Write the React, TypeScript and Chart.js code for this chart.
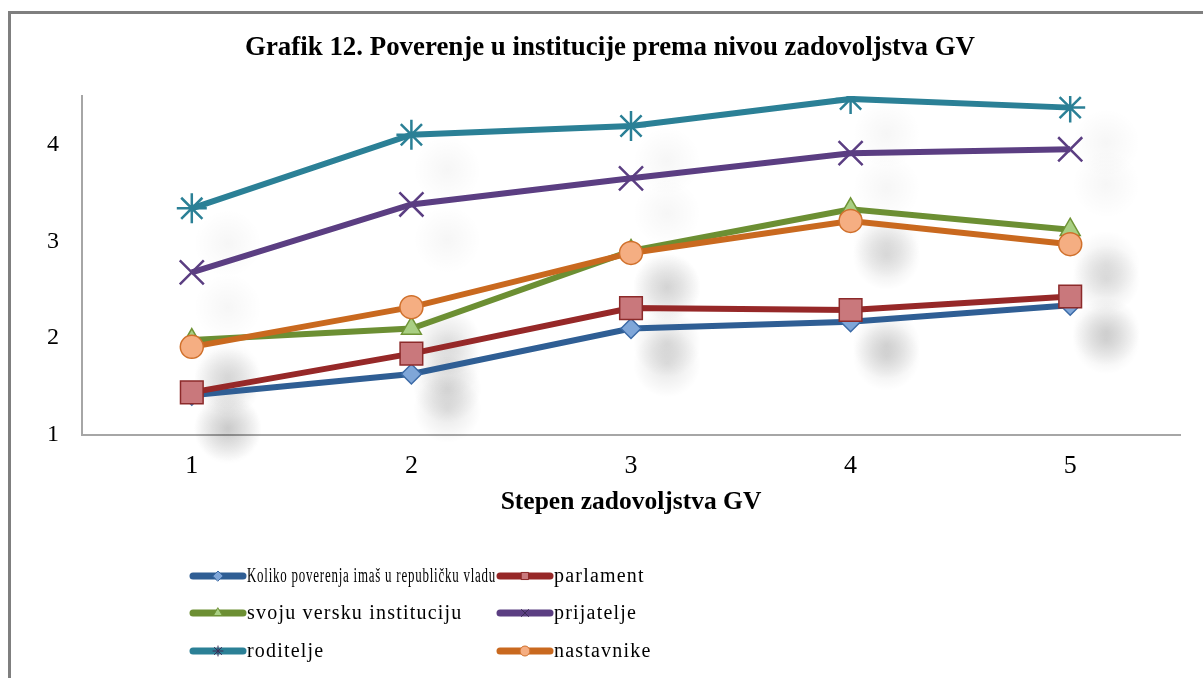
import React, { useEffect, useRef } from "react";
import { Chart, registerables } from "chart.js";
import { drawPoint } from "chart.js/helpers";

Chart.register(...registerables);

const categories = ["1", "2", "3", "4", "5"];
const vladu = [1.41, 1.63, 2.1, 2.17, 2.34];
const parlament = [1.44, 1.84, 2.31, 2.29, 2.43];
const verska = [1.98, 2.1, 2.9, 3.33, 3.12];
const prijatelje = [2.68, 3.38, 3.65, 3.91, 3.95];
const roditelje = [3.34, 4.1, 4.19, 4.47, 4.38];
const nastavnike = [1.91, 2.32, 2.88, 3.21, 2.97];
const seriesLabels = [
  "Koliko poverenja imaš u republičku vladu",
  "parlament",
  "svoju versku instituciju",
  "prijatelje",
  "roditelje",
  "nastavnike",
];
const yTicks = [1, 2, 3, 4];
const titleText = "Grafik 12. Poverenje u institucije prema nivou zadovoljstva GV";
const xTitleText = "Stepen zadovoljstva GV";

const SERIF = '"Liberation Serif", "Times New Roman", serif';

const styles = [
  { line: "#2f5e94", fill: "#7fa6d8", border: "#3b6aa6", point: "rectRot", r: 10, bw: 1.5, shadow: 0.1 },
  { line: "#962828", fill: "#c9787c", border: "#8c2a2a", point: "rect", r: 16, bw: 1.5, shadow: 0.12 },
  { line: "#6c8f33", fill: "#a9cf83", border: "#6f9436", point: "triangle", r: 11.5, bw: 1.5, shadow: 0.07 },
  { line: "#5b3e82", fill: "#5b3e82", border: "#5b3e82", point: "crossRot", r: 17, bw: 2.5, shadow: 0.035 },
  { line: "#2b8096", fill: "#2b8096", border: "#2b8096", point: "star", r: 15, bw: 2.5, shadow: 0.035 },
  { line: "#c9691f", fill: "#f5ae82", border: "#d0702b", point: "circle", r: 11.5, bw: 1.5, shadow: 0.11 },
];

const seriesData = [vladu, parlament, verska, prijatelje, roditelje, nastavnike];

const legendColX = [190, 497];
const legendRowY = [576, 613, 651];
const legendTextMax = [249, 300];

const framePlugin = {
  id: "frame",
  beforeDraw(chart: any) {
    const ctx = chart.ctx;
    ctx.save();
    ctx.fillStyle = "#ffffff";
    ctx.fillRect(0, 0, chart.width, chart.height);
    ctx.strokeStyle = "#7f7f7f";
    ctx.lineWidth = 3;
    ctx.strokeRect(9.5, 12.5, chart.width + 40, chart.height + 40);
    // chart title
    ctx.fillStyle = "#000000";
    ctx.font = `bold 28px ${SERIF}`;
    ctx.textAlign = "center";
    ctx.textBaseline = "middle";
    ctx.translate(610, 48);
    ctx.scale(0.96, 1);
    ctx.fillText(titleText, 0, 0);
    ctx.restore();
  },
};

const shadowPlugin = {
  id: "markerShadows",
  beforeDatasetsDraw(chart: any) {
    const ctx = chart.ctx;
    ctx.save();
    chart.data.datasets.forEach((ds: any, i: number) => {
      const meta = chart.getDatasetMeta(i);
      const a = styles[i].shadow;
      meta.data.forEach((p: any) => {
        const cx = p.x + 36;
        const cy = p.y + 35;
        const R = 34;
        const g = ctx.createRadialGradient(cx, cy, 0, cx, cy, R);
        g.addColorStop(0, `rgba(0,0,0,${a})`);
        g.addColorStop(0.45, `rgba(0,0,0,${a * 0.6})`);
        g.addColorStop(1, "rgba(0,0,0,0)");
        ctx.fillStyle = g;
        ctx.fillRect(cx - R, cy - R, 2 * R, 2 * R);
      });
    });
    ctx.restore();
  },
};

const gridLegendPlugin = {
  id: "gridLegend",
  afterDraw(chart: any) {
    const ctx = chart.ctx;
    chart.data.datasets.forEach((ds: any, i: number) => {
      const col = i % 2;
      const row = Math.floor(i / 2);
      const x0 = legendColX[col];
      const y = legendRowY[row];
      const st = styles[i];
      ctx.save();
      ctx.strokeStyle = st.line;
      ctx.lineWidth = 7;
      ctx.lineCap = "round";
      ctx.beginPath();
      ctx.moveTo(x0 + 3, y);
      ctx.lineTo(x0 + 53, y);
      ctx.stroke();
      ctx.fillStyle = st.fill;
      ctx.strokeStyle = st.point === "crossRot" || st.point === "star" ? "#3a2a55" : st.border;
      ctx.lineWidth = 1;
      drawPoint(ctx, { pointStyle: st.point, radius: 5, rotation: 0, borderWidth: 1 }, x0 + 28, y);
      ctx.fillStyle = "#000000";
      ctx.font = `20px ${SERIF}`;
      (ctx as any).letterSpacing = "1.2px";
      ctx.textBaseline = "middle";
      ctx.textAlign = "left";
      ctx.fillText(seriesLabels[i], x0 + 57, y + 1, legendTextMax[col]);
      ctx.restore();
    });
  },
};

export default function App() {
  const ref = useRef<HTMLCanvasElement | null>(null);

  useEffect(() => {
    if (!ref.current) return;
    const datasets = seriesData.map((d, i) => ({
      label: seriesLabels[i],
      data: d,
      borderColor: styles[i].line,
      backgroundColor: styles[i].fill,
      borderWidth: 6,
      pointStyle: styles[i].point,
      pointRadius: styles[i].r,
      pointBackgroundColor: styles[i].fill,
      pointBorderColor: styles[i].border,
      pointBorderWidth: styles[i].bw,
      tension: 0,
      order: seriesData.length - i,
    }));

    const chart = new Chart(ref.current, {
      type: "line",
      data: { labels: categories, datasets },
      options: {
        responsive: false,
        animation: false,
        layout: { padding: { left: 0, right: 23, top: 96, bottom: 143 } },
        plugins: {
          legend: { display: false },
          tooltip: { enabled: false },
          title: { display: false },
        },
        scales: {
          x: {
            type: "category",
            offset: true,
            grid: { display: false, drawTicks: false },
            border: { display: true, color: "#a6a6a6", width: 2 },
            ticks: { color: "#000000", font: { family: SERIF, size: 26 }, padding: 16 },
            title: {
              display: true,
              text: xTitleText,
              color: "#000000",
              font: { family: SERIF, size: 25.5, weight: "bold" },
              padding: { top: 0, bottom: 17 },
            },
            afterFit(s: any) {
              s.height = 100;
            },
          },
          y: {
            min: 1,
            max: 4.5,
            grid: { display: false, drawTicks: false },
            border: { display: true, color: "#a6a6a6", width: 2 },
            ticks: { color: "#000000", font: { family: SERIF, size: 24 }, padding: 23, stepSize: 1 },
            afterBuildTicks(s: any) {
              s.ticks = yTicks.map((v) => ({ value: v }));
            },
            afterFit(s: any) {
              s.width = 82;
            },
          },
        },
      } as any,
      plugins: [framePlugin, shadowPlugin, gridLegendPlugin],
    });
    return () => chart.destroy();
  }, []);

  return (
    <div style={{ position: "absolute", left: 0, top: 0, width: 1203, height: 678, background: "#fff" }}>
      <canvas ref={ref} width={1203} height={678} style={{ display: "block" }} />
    </div>
  );
}
